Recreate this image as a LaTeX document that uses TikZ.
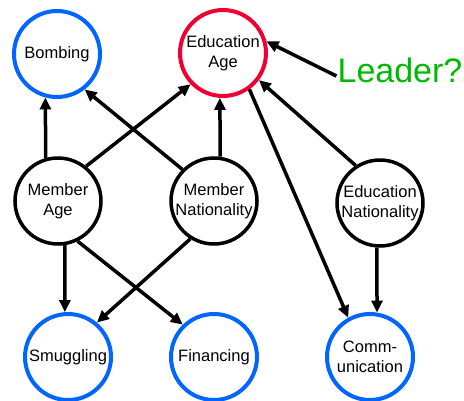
\documentclass[tikz,border=0pt]{standalone}
\usepackage{fontspec}
\setmainfont{Liberation Sans}
\usetikzlibrary{arrows.meta}
\definecolor{netblue}{RGB}{0,102,255}
\definecolor{netred}{RGB}{240,0,50}
\definecolor{netgreen}{RGB}{0,185,0}
\begin{document}
\begin{tikzpicture}[x=1pt,y=-1pt,
    var/.style={circle,draw,line width=3.5pt,minimum size=86pt,inner sep=0pt,
        align=center,font=\fontsize{16.5}{20}\selectfont},
    obs/.style={var,draw=netblue,line width=4pt},
    hid/.style={var,draw=netred,line width=4pt},
    arr/.style={line width=3.5pt,-{Triangle[length=12pt,width=11pt]}}]
        \useasboundingbox (0,0) rectangle (464,400);
        \node[obs] (bomb) at (57,54) {Bombing};
        \node[hid] (eduage) at (223,53) {Education\\Age};
        \node[var] (memage) at (58,201) {Member\\Age};
        \node[var] (memnat) at (214,201) {Member\\Nationality};
        \node[var] (edunat) at (380,203) {Education\\Nationality};
        \node[obs] (smug) at (68,357) {Smuggling};
        \node[obs] (fin) at (214,357) {Financing};
        \node[obs] (comm) at (370,357) {Comm-\\unication};
        \node[text=netgreen,font=\fontsize{34}{36}\selectfont,inner sep=1pt] (leader) at (400,70) {Leader?};
        \draw[arr] (memage.106) -- (bomb.255);
        \draw[arr] (memage.51) -- (eduage.224);
        \draw[arr] (memnat.135) -- (bomb.308);
        \draw[arr] (memnat.82) -- (eduage.266);
        \draw[arr] (eduage.306) -- (comm.119);
        \draw[arr] (edunat.123) -- (eduage.323);
        \draw[arr] (edunat.266) -- (comm.81);
        \draw[arr] (memage.279) -- (smug.94);
        \draw[arr] (memage.296) -- (fin.134);
        \draw[arr] (memnat.238) -- (smug.50);
        \draw[arr] ([yshift=-6pt]leader.west) -- (eduage.15);
\end{tikzpicture}
\end{document}
